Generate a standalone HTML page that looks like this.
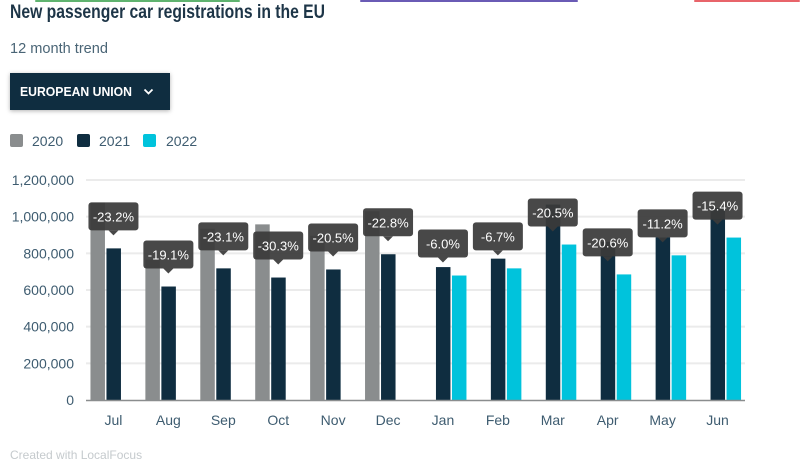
<!DOCTYPE html>
<html><head><meta charset="utf-8"><style>
html,body{margin:0;padding:0;background:#fff;width:800px;height:464px;overflow:hidden;font-family:"Liberation Sans",sans-serif}
svg text{font-family:"Liberation Sans",sans-serif}
</style></head><body>
<svg id="chart" width="800" height="464" xmlns="http://www.w3.org/2000/svg">
  <rect x="35" y="0" width="205" height="2" rx="1" fill="#5fb36f"/>
  <rect x="360" y="0" width="218" height="2" rx="1" fill="#6a5bb5"/>
  <rect x="694" y="0" width="106" height="2" rx="1" fill="#e8646a"/>
  <text x="10" y="18" font-size="19" font-weight="bold" fill="#1d3547" textLength="315" lengthAdjust="spacingAndGlyphs">New passenger car registrations in the EU</text>
  <text x="10" y="53" font-size="15" fill="#4a6576" textLength="98" lengthAdjust="spacingAndGlyphs">12 month trend</text>
  <g>
    <rect x="10" y="73" width="160" height="37" fill="#0f2d40" style="filter:drop-shadow(0 1px 2px rgba(0,0,0,0.3))"/>
    <text x="20" y="96" font-size="13" font-weight="bold" fill="#fff" textLength="112" lengthAdjust="spacingAndGlyphs">EUROPEAN UNION</text>
    <path d="M144.5 89.5 L148.5 93.5 L152.5 89.5" stroke="#fff" stroke-width="1.8" fill="none"/>
  </g>
  <g>
    <g><rect x="10" y="134" width="13" height="13" rx="2" fill="#8a8d8e"/><text x="32" y="146" font-size="14" fill="#3e5c70">2020</text></g>
    <g><rect x="77" y="134" width="13" height="13" rx="2" fill="#0f2d40"/><text x="99" y="146" font-size="14" fill="#3e5c70">2021</text></g>
    <g><rect x="143" y="134" width="13" height="13" rx="2" fill="#00c3dc"/><text x="166" y="146" font-size="14" fill="#3e5c70">2022</text></g>
  </g>
  <g id="grid"></g><g id="bars"></g><g id="axes"></g><g id="tips"></g>
  <text x="10" y="459" font-size="12" fill="#c5cacd">Created with LocalFocus</text>
</svg>
<script>
const categories = ["Jul","Aug","Sep","Oct","Nov","Dec","Jan","Feb","Mar","Apr","May","Jun"];
const values2020 = [1077000,765000,934000,958000,896000,1030000,null,null,null,null,null,null];
const values2021 = [827000,619000,718000,668000,712000,795000,725000,771000,1066000,863000,888000,1047000];
const values2022 = [null,null,null,null,null,null,679000,718000,848000,685000,789000,886000];
const changeLabels = ["-23.2%","-19.1%","-23.1%","-30.3%","-20.5%","-22.8%","-6.0%","-6.7%","-20.5%","-20.6%","-11.2%","-15.4%"];
const yTicks = [0,200000,400000,600000,800000,1000000,1200000];

const NS="http://www.w3.org/2000/svg";
const x0=86,x1=745,yBase=400,yTop=180,yMax=1200000;
const band=(x1-x0)/categories.length;
function y(v){return yBase-(v/yMax)*(yBase-yTop);}
function cx(i){return x0+band*(i+0.5);}
function mk(tag,attrs,parent){const e=document.createElementNS(NS,tag);for(const k in attrs)e.setAttribute(k,attrs[k]);parent.appendChild(e);return e;}
const grid=document.getElementById('grid'),bars=document.getElementById('bars'),axes=document.getElementById('axes'),tips=document.getElementById('tips');
yTicks.forEach(t=>{
  if(t>0){const l=mk('line',{x1:x0,x2:x1,y1:y(t),y2:y(t),stroke:'#ebebeb','stroke-width':2},grid);
  
  }
  const tx=mk('text',{x:74,y:y(t)+5,'font-size':14,fill:'#3e5c70','text-anchor':'end'},axes);
  tx.textContent=t.toLocaleString('en-US');
  
  
});
const base=mk('line',{x1:x0,x2:x1,y1:yBase+0.5,y2:yBase+0.5,stroke:'#8a8d8e','stroke-width':1.5},axes);


const series=[[values2020,'#8a8d8e','2020'],[values2021,'#0f2d40','2021'],[values2022,'#00c3dc','2022']];
categories.forEach((c,i)=>{
  const c0=cx(i);
  series.forEach((s,k)=>{
    const v=s[0][i]; if(v==null) return;
    const bx=c0-23+k*16;
    const r=mk('rect',{x:bx,y:y(v),width:14.5,height:yBase-y(v),fill:s[1]},bars);
    
    
  });
  const lab=mk('text',{x:c0,y:425,'font-size':14,fill:'#3e5c70','text-anchor':'middle'},axes);
  lab.textContent=c;
  
  
  const last = values2022[i]!=null?values2022[i]:values2021[i];
  const tip=y(last)-13;
  const g=mk('g',{},tips);
  
  
  mk('rect',{x:c0-25,y:tip-33,width:50,height:28,rx:3,fill:'rgba(58,58,58,0.93)'},g);
  mk('path',{d:`M${c0-5} ${tip-5} L${c0} ${tip} L${c0+5} ${tip-5} Z`,fill:'rgba(58,58,58,0.93)'},g);
  const t=mk('text',{x:c0,y:tip-14,'font-size':13,fill:'#fff','text-anchor':'middle'},g);
  t.textContent=changeLabels[i];
});
</script>
</body></html>
